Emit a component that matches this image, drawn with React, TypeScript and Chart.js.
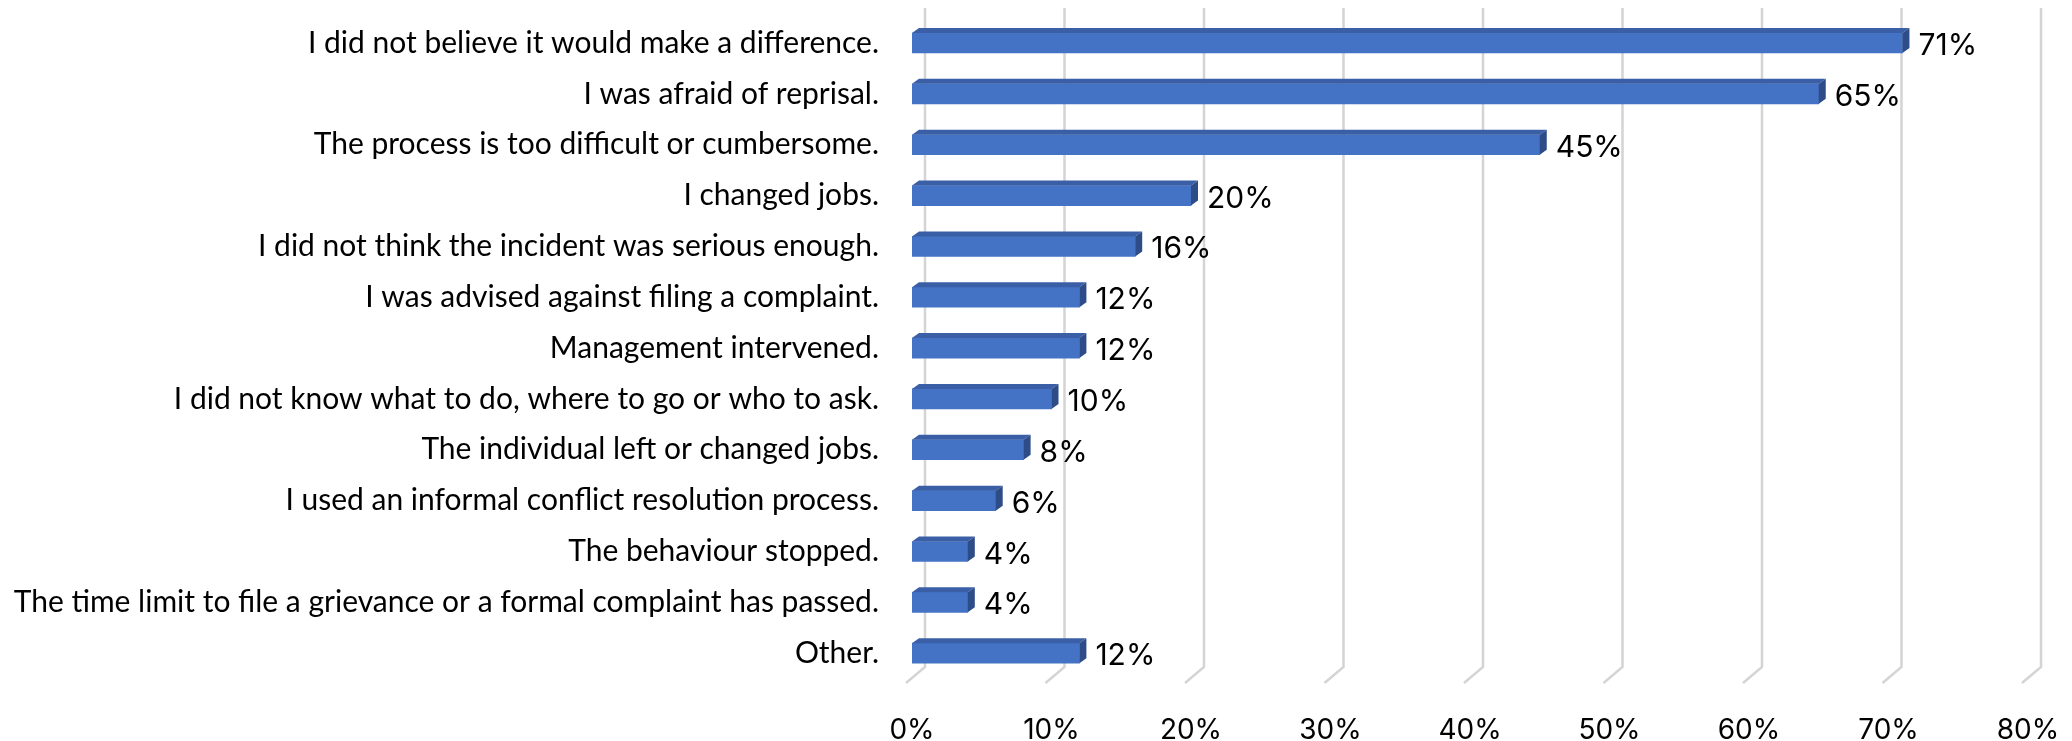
import React, { useEffect, useRef } from "react";
import { Chart, registerables } from "chart.js";

Chart.register(...registerables);

const categories = [
  "I did not believe it would make a difference.",
  "I was afraid of reprisal.",
  "The process is too difficult or cumbersome.",
  "I changed jobs.",
  "I did not think the incident was serious enough.",
  "I was advised against filing a complaint.",
  "Management intervened.",
  "I did not know what to do, where to go or who to ask.",
  "The individual left or changed jobs.",
  "I used an informal conflict resolution process.",
  "The behaviour stopped.",
  "The time limit to file a grievance or a formal complaint has passed.",
  "Other.",
];
const values = [71, 65, 45, 20, 16, 12, 12, 10, 8, 6, 4, 4, 12];
const xTickValues = [0, 10, 20, 30, 40, 50, 60, 70, 80];

const FRONT = "#4472C4";
const TOP = "#3A5FA6";
const SIDE = "#2D4C88";
const GRID = "#D4D4D4";

const gridPlugin = {
  id: "grid3d",
  beforeDatasetsDraw(chart: any) {
    const ctx = chart.ctx;
    const xs = chart.scales.x;
    ctx.save();
    ctx.strokeStyle = GRID;
    ctx.lineWidth = 2.5;
    for (const v of xTickValues) {
      const xb = xs.getPixelForValue(v) + 13;
      ctx.beginPath();
      ctx.moveTo(xb, 8);
      ctx.lineTo(xb, 667);
      ctx.lineTo(xb - 19, 683);
      ctx.stroke();
    }
    ctx.restore();
  },
};

const barPlugin = {
  id: "bar3d",
  afterDatasetsDraw(chart: any) {
    const ctx = chart.ctx;
    const meta = chart.getDatasetMeta(0);
    const dx = 7;
    const dy = 5;
    ctx.save();
    meta.data.forEach((bar: any, i: number) => {
      const { x, y, base, height } = bar.getProps(["x", "y", "base", "height"], true);
      const top = y - height / 2;
      const bot = y + height / 2;
      ctx.fillStyle = TOP;
      ctx.beginPath();
      ctx.moveTo(base, top);
      ctx.lineTo(base + dx, top - dy);
      ctx.lineTo(x + dx, top - dy);
      ctx.lineTo(x, top);
      ctx.closePath();
      ctx.fill();
      ctx.fillStyle = SIDE;
      ctx.beginPath();
      ctx.moveTo(x, top);
      ctx.lineTo(x + dx, top - dy);
      ctx.lineTo(x + dx, bot - dy);
      ctx.lineTo(x, bot);
      ctx.closePath();
      ctx.fill();
      ctx.fillStyle = "#000";
      ctx.font = "30px Inter, 'Open Sans', sans-serif";
      ctx.textAlign = "left";
      ctx.textBaseline = "middle";
      ctx.fillText(values[i] + "%", x + dx + 9, y + 3);
    });
    ctx.restore();
  },
};

export default function App() {
  const ref = useRef<HTMLCanvasElement | null>(null);
  useEffect(() => {
    if (!ref.current) return;
    const chart = new Chart(ref.current, {
      type: "bar",
      data: {
        labels: categories,
        datasets: [
          {
            data: values,
            backgroundColor: FRONT,
            barThickness: 20,
          },
        ],
      },
      plugins: [gridPlugin, barPlugin],
      options: {
        indexAxis: "y",
        animation: false,
        responsive: false,
        layout: { padding: { top: 17.6, right: 44, left: 0, bottom: 0 } },
        plugins: { legend: { display: false }, tooltip: { enabled: false } },
        scales: {
          x: {
            min: 0,
            max: 80,
            afterBuildTicks(scale: any) {
              scale.ticks = xTickValues.map((v) => ({ value: v }));
            },
            afterFit(scale: any) {
              scale.height = 62.4;
              scale.paddingLeft = 0;
              scale.paddingRight = 0;
            },
            grid: { display: false, drawTicks: false },
            border: { display: false },
            ticks: {
              padding: 35,
              color: "#000",
              font: { family: "Inter, 'Open Sans', sans-serif", size: 28 },
              callback: (v: any) => v + "%",
            },
          },
          y: {
            afterFit(scale: any) {
              scale.width = 912;
              scale.paddingTop = 0;
              scale.paddingBottom = 0;
            },
            grid: { display: false, drawTicks: false },
            border: { display: false },
            ticks: {
              padding: 33,
              color: "#000",
              autoSkip: false,
              font: { family: "Lato, sans-serif", size: 30 },
            },
          },
        },
      },
    });
    return () => chart.destroy();
  }, []);
  return (
    <div style={{ position: "fixed", left: 0, top: 0, width: 2072, height: 741, background: "#fff" }}>
      <canvas ref={ref} width={2072} height={741} style={{ width: 2072, height: 741 }} />
    </div>
  );
}
